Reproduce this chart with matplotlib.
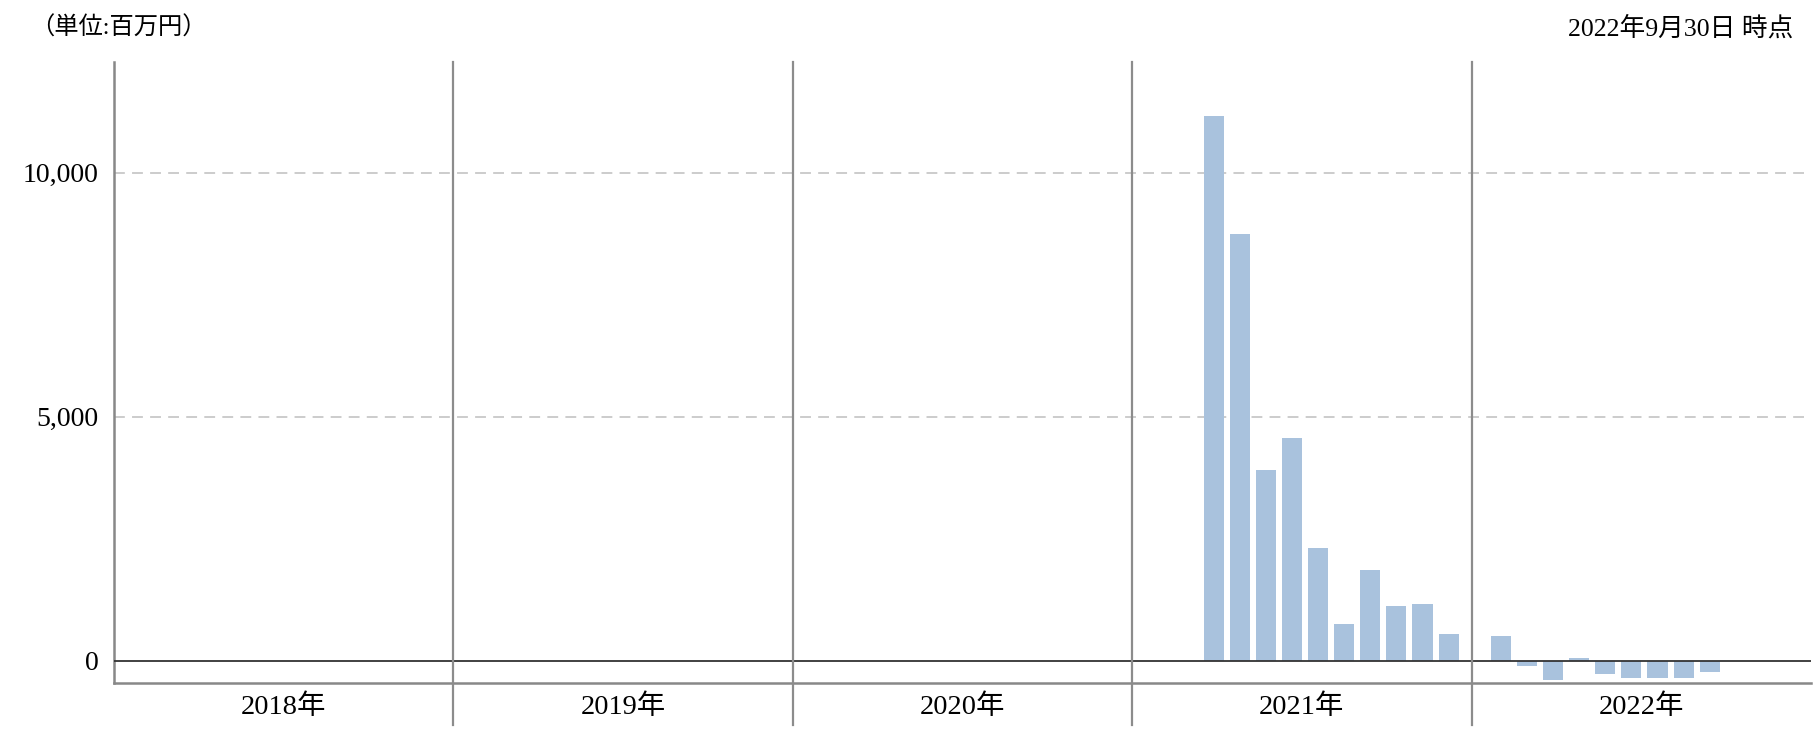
import matplotlib
matplotlib.use("Agg")
import matplotlib.pyplot as plt
import matplotlib.transforms as mtransforms

plt.rcParams['font.family'] = ['Liberation Serif', 'Noto Sans CJK JP', 'DejaVu Sans']

# ---- data ----
years = [2018, 2019, 2020, 2021, 2022]
year_labels = ['2018年', '2019年', '2020年', '2021年', '2022年']
bar_years = [2021] * 10 + [2022] * 9
bar_months = [3, 4, 5, 6, 7, 8, 9, 10, 11, 12,
              1, 2, 3, 4, 5, 6, 7, 8, 9]
bar_values = [11170, 8755, 3910, 4560, 2305, 745, 1855, 1115, 1160, 540,
              505, -103, -390, 55, -267, -349, -349, -349, -226]
y_ticks = [0, 5000, 10000]
y_tick_labels = ['0', '5,000', '10,000']
unit_text = '（単位:百万円）'
date_text = '2022年9月30日 時点'

SLOTS = 13      # 12 months + padding per year
BAR_SHIFT = 0.12

fig = plt.figure(figsize=(18.2, 7.38), dpi=100)
ax = fig.add_axes([114 / 1820, 1 - 682.7 / 738, (1811 - 114) / 1820, (682.7 - 61.7) / 738])

xs = [(y - years[0]) * SLOTS + m + BAR_SHIFT for y, m in zip(bar_years, bar_months)]
ax.bar(xs, bar_values, width=0.77, color='#a9c2dd', linewidth=0, zorder=2)

ax.set_xlim(0, SLOTS * len(years))
ax.set_ylim(-453, 12277)

# grid lines
for t in y_ticks[1:]:
    ax.axhline(t, color='#c8c8c8', lw=1.3, ls=(0, (6, 4)), zorder=1)
ax.axhline(0, color='#333333', lw=1.3, zorder=3)

ax.set_yticks(y_ticks)
ax.set_yticklabels(y_tick_labels, fontsize=20)
ax.tick_params(axis='y', length=0, pad=11)
ax.set_xticks([])

for s in ['top', 'right']:
    ax.spines[s].set_visible(False)
for s in ['left', 'bottom']:
    ax.spines[s].set_color('#888888')
    ax.spines[s].set_linewidth(1.8)

trans = mtransforms.blended_transform_factory(ax.transData, ax.transAxes)
for i in range(1, len(years)):
    xd = i * SLOTS
    ax.plot([xd, xd], [-0.068, 1.0], transform=trans, color='#8c8c8c', lw=1.6,
            clip_on=False, zorder=4)

for i, lab in enumerate(year_labels):
    ax.text(i * SLOTS + SLOTS / 2, -0.039, lab, transform=trans, ha='center',
            va='center', fontsize=20.5)

fig.text(30 / 1820, 1 - 28 / 738, unit_text, ha='left', va='center', fontsize=17.5)
fig.text(1793 / 1820, 1 - 28 / 738, date_text, ha='right', va='center', fontsize=18.5)

fig.savefig('out.png', dpi=100)
